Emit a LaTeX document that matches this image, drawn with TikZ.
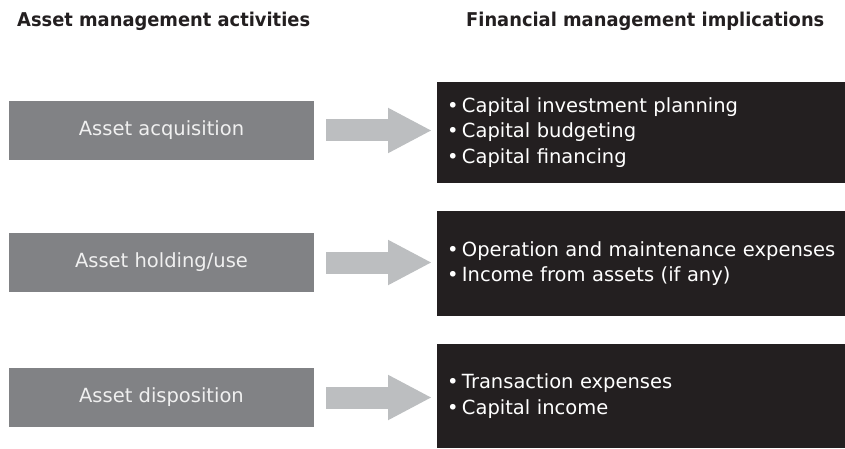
\documentclass[tikz,border=0pt]{standalone}
\usepackage{fontspec}
\setmainfont{DejaVu Sans}
\newfontfamily\headfont[FakeStretch=0.94]{DejaVu Sans}
\usetikzlibrary{arrows.meta}

\definecolor{actgray}{HTML}{818285}
\definecolor{arrowgray}{HTML}{BCBEC0}
\definecolor{impblack}{HTML}{231F20}

\newcommand{\itm}{•\,}

\tikzset{
    header/.style={anchor=base west, inner sep=0pt, text=impblack,
        font=\headfont\bfseries\fontsize{19}{22}\selectfont},
    actbox/.style={fill=actgray, text=white!94!black, minimum width=305pt,
        minimum height=59pt, font=\fontsize{19.5}{25.3}\selectfont},
    impbox/.style={fill=impblack, text=white, anchor=west, align=left,
        text width=400pt, inner xsep=10pt,
        font=\fontsize{19.5}{25.3}\selectfont},
    bigarrow/.style={draw=arrowgray, line width=22pt,
        -{Triangle[length=44pt,width=42pt]}, shorten <=12pt, shorten >=5pt}
}

\begin{document}
\begin{tikzpicture}[x=1pt, y=-1pt]
    \useasboundingbox (0,0) rectangle (845,449);

    \node[header] (hleft) at (17,27) {Asset management activities};
    \node[header] (hright) at (466,27) {Financial management implications};

    % one row per activity
    \foreach \i/\yc/\ya/\h/\act/\imp in {
        1/130.5/132.5/101/{Asset acquisition}/{\itm Capital investment planning\\ \itm Capital budgeting\\ \itm Capital financing},
        2/262.5/263.5/105/{Asset holding/use}/{\itm Operation and maintenance expenses\\ \itm Income from assets (if any)},
        3/397.5/396/104/{Asset disposition}/{\itm Transaction expenses\\ \itm Capital income}} {
        \node[actbox] (act\i) at (161.5,\yc) {\act};
        \node[impbox, minimum height=\h pt] (imp\i) at (437,\ya) {\imp};
        \draw[bigarrow] (act\i.east) -- (act\i.east -| imp\i.west);
    }
\end{tikzpicture}
\end{document}
